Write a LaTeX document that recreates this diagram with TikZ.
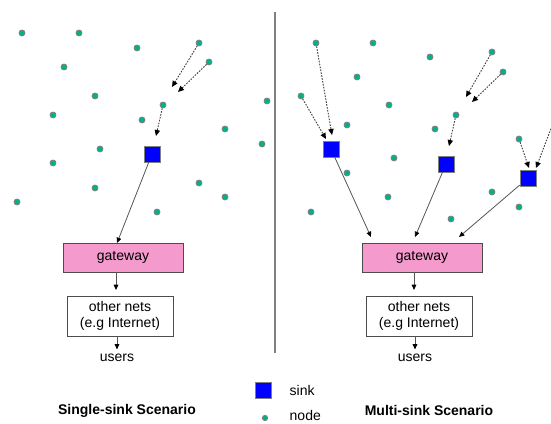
\documentclass[tikz,border=0pt]{standalone}
\usepackage{fontspec}
\setmainfont{Liberation Sans}
\usetikzlibrary{arrows.meta}
\definecolor{dotfill}{RGB}{0,178,135}
\definecolor{gwpink}{RGB}{244,154,204}
\definecolor{linegray}{RGB}{85,85,85}
\begin{document}
\begin{tikzpicture}[x=0.75pt,y=-0.75pt,
  every node/.style={font=\fontsize{10.5}{12}\selectfont},
  dot/.style={circle,fill=dotfill,draw=gray,line width=0.6pt,inner sep=0pt,minimum size=4.5pt},
  sinkbox/.style={rectangle,fill=blue,draw=gray,line width=0.5pt,inner sep=0pt,minimum size=12pt},
  gwbox/.style={rectangle,fill=gwpink,draw=black!70,line width=0.6pt,minimum width=90pt,minimum height=21.75pt,inner sep=0pt},
  netbox/.style={rectangle,fill=white,draw=black!70,line width=0.6pt,minimum width=79.5pt,minimum height=30pt,inner sep=0pt,align=center,font=\fontsize{10.5}{12.5}\selectfont},
  solidarr/.style={draw=linegray,line width=0.6pt,-{Triangle[length=4pt,width=3.5pt,color=black]}},
  dasharr/.style={draw=black!75,line width=0.7pt,dash pattern=on 1.2pt off 1pt,-{Triangle[length=4.5pt,width=4pt,color=black]}},
  title/.style={font=\bfseries\fontsize{10.5}{12}\selectfont}]
\useasboundingbox (0,0) rectangle (551,424);
% divider
\draw[gray,line width=0.8pt] (275,12) -- (275,353);
% left dots
\foreach \n/\x/\y in {1/22/33,2/79/33,3/137/48,4/199/43,5/209/62,6/64/67,7/95/96,8/163/105,9/267/101,10/53/115,11/142/120,12/225/129,13/262/144,14/100/149,15/53/163,16/199/183,17/95/188,18/225/197,19/17/202,20/157/212}
  \node[dot] (l\n) at (\x,\y) {};
% right dots
\foreach \n/\x/\y in {1/316/43,2/373/43,3/430/57,4/492/52,5/503/72,6/357/77,7/301/96,8/389/105,9/456/115,10/347/125,11/435/129,12/519/139,13/394/158,14/347/173,15/492/192,16/388/197,17/311/212,18/519/207,19/451/219}
  \node[dot] (r\n) at (\x,\y) {};
% sinks
\node[sinkbox] (sL) at (152,154) {};
\node[sinkbox] (s1) at (331,149) {};
\node[sinkbox] (s2) at (446,164) {};
\node[sinkbox] (s3) at (528,178) {};
% gateways and nets
\node[gwbox] (gL) at (123,257.5) {gateway};
\node[gwbox] (gR) at (422,257.5) {gateway};
\node[netbox] (nL) at (120,316) {other nets\\(e.g Internet)};
\node[netbox] (nR) at (419,316) {other nets\\(e.g Internet)};
\node (uL) at (117,358) {users};
\node (uR) at (415,358) {users};
\node[title] (tL) at (127,411) {Single-sink Scenario};
\node[title] (tR) at (429,410) {Multi-sink Scenario};
% legend
\node[sinkbox] (legS) at (263,390) {};
\node[anchor=west] (legSt) at (285,390) {sink};
\node[dot,minimum size=4pt] (legN) at (265,418) {};
\node[anchor=west] (legNt) at (285,415) {node};
% free ends
\coordinate (a1) at (172,87);
\coordinate (a2) at (178,92);
\coordinate (a3) at (156,136);
\coordinate (b1) at (332,135);
\coordinate (b2) at (326,139);
\coordinate (b3) at (466,97);
\coordinate (b4) at (472,102);
\coordinate (b5) at (449,146);
\coordinate (b6) at (529,168);
\coordinate (b7) at (536,168);
\coordinate (rs) at (552,126);
\coordinate (gtL) at (117,243);
\coordinate (g1) at (371,237);
\coordinate (g2) at (415,237);
\coordinate (g3) at (459,237);
\coordinate (nLt) at (116,290);
\coordinate (nRt) at (414,290);
% dashed arrows
\draw[dasharr] (l4) -- (a1);
\draw[dasharr] (l5) -- (a2);
\draw[dasharr] (l8) -- (a3);
\draw[dasharr] (r1) -- (b1);
\draw[dasharr] (r7) -- (b2);
\draw[dasharr] (r4) -- (b3);
\draw[dasharr] (r5) -- (b4);
\draw[dasharr] (r9) -- (b5);
\draw[dasharr] (r12) -- (b6);
\draw[dasharr] (rs) -- (b7);
% solid arrows
\draw[solidarr] (sL) -- (gtL);
\draw[solidarr] (s1) -- (g1);
\draw[solidarr] (s2) -- (g2);
\draw[solidarr] (s3) -- (g3);
\draw[solidarr] (gL.south -| nLt) -- (nLt);
\draw[solidarr] (gR.south -| nRt) -- (nRt);
\draw[solidarr] (nL.south -| uL) -- (uL.north);
\draw[solidarr] (nR.south -| uR) -- (uR.north);
\end{tikzpicture}
\end{document}
